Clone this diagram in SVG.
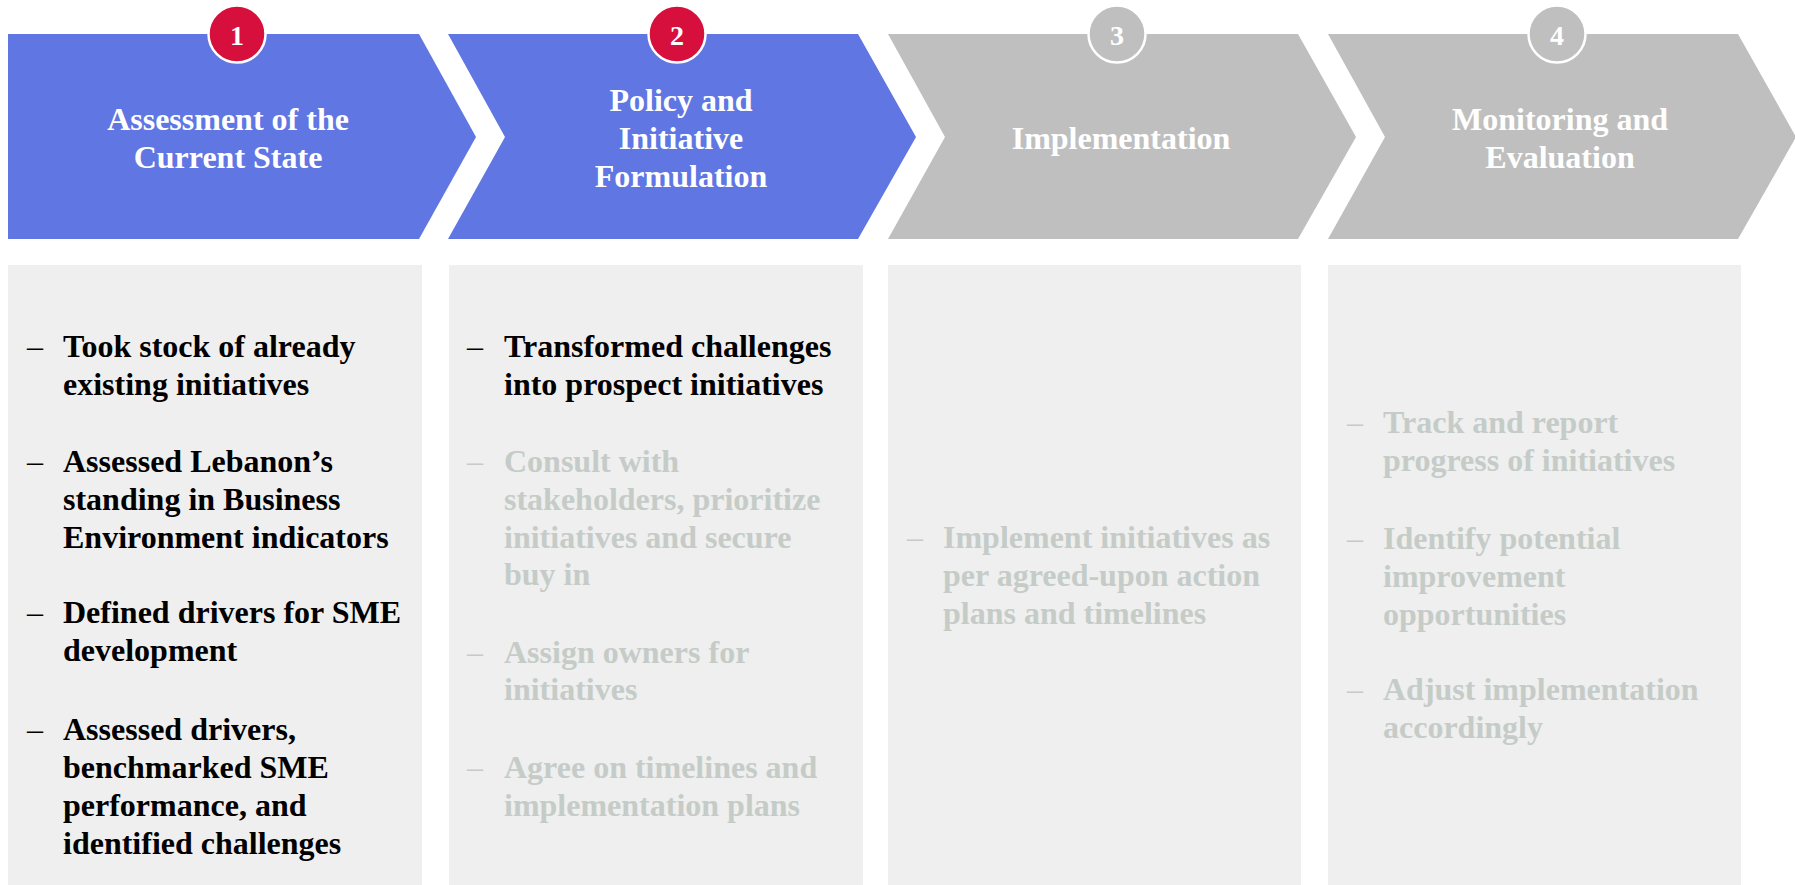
<svg xmlns="http://www.w3.org/2000/svg" width="1795" height="885" viewBox="0 0 1795 885">
  <style>
    .chev-on { fill: #5F76E3; }
    .chev-off { fill: #BFBFBF; }
    .badge-on { fill: #D70F3C; stroke: #FFFFFF; stroke-width: 2.5; }
    .badge-off { fill: #BFBFBF; stroke: #FFFFFF; stroke-width: 2.5; }
    .num { font-family: "Liberation Serif", "Times New Roman", serif; font-weight: bold; font-size: 28px; fill: #FFFFFF; text-anchor: middle; }
    .title { font-family: "Liberation Serif", "Times New Roman", serif; font-weight: bold; font-size: 32px; fill: #FFFFFF; text-anchor: middle; }
    .panel { fill: #EFEFEF; }
    .body { font-family: "Liberation Serif", "Times New Roman", serif; font-weight: bold; font-size: 32px; }
    .dash { font-weight: normal; }
    .done { fill: #000000; }
    .todo { fill: #C5CCC8; }
  </style>

  <!-- Step 1: Assessment of the Current State -->
  <g id="step1">
    <polygon class="chev-on" points="8,34 419,34 476,137 419,239 8,239"/>
    <circle class="badge-on" cx="237" cy="34" r="28.5"/>
    <text class="num" x="237" y="45">1</text>
    <text class="title" x="228" y="130">Assessment of the</text>
    <text class="title" x="228" y="168">Current State</text>
    <rect class="panel" x="8" y="265" width="414" height="620"/>
    <g class="body">
      <text class="done dash" x="27" y="357">–</text>
      <text class="done" x="63" y="357">Took stock of already</text>
      <text class="done" x="63" y="395">existing initiatives</text>
      <text class="done dash" x="27" y="472">–</text>
      <text class="done" x="63" y="472">Assessed Lebanon’s</text>
      <text class="done" x="63" y="510">standing in Business</text>
      <text class="done" x="63" y="548">Environment indicators</text>
      <text class="done dash" x="27" y="623">–</text>
      <text class="done" x="63" y="623">Defined drivers for SME</text>
      <text class="done" x="63" y="661">development</text>
      <text class="done dash" x="27" y="740">–</text>
      <text class="done" x="63" y="740">Assessed drivers,</text>
      <text class="done" x="63" y="778">benchmarked SME</text>
      <text class="done" x="63" y="816">performance, and</text>
      <text class="done" x="63" y="854">identified challenges</text>
    </g>
  </g>

  <!-- Step 2: Policy and Initiative Formulation -->
  <g id="step2">
    <polygon class="chev-on" points="448,34 858,34 916,137 858,239 448,239 505,137"/>
    <circle class="badge-on" cx="677" cy="34" r="28.5"/>
    <text class="num" x="677" y="45">2</text>
    <text class="title" x="681" y="111">Policy and</text>
    <text class="title" x="681" y="149">Initiative</text>
    <text class="title" x="681" y="187">Formulation</text>
    <rect class="panel" x="449" y="265" width="414" height="620"/>
    <g class="body">
      <text class="done dash" x="467" y="357">–</text>
      <text class="done" x="504" y="357">Transformed challenges</text>
      <text class="done" x="504" y="395">into prospect initiatives</text>
      <text class="todo dash" x="467" y="472">–</text>
      <text class="todo" x="504" y="472">Consult with</text>
      <text class="todo" x="504" y="510">stakeholders, prioritize</text>
      <text class="todo" x="504" y="548">initiatives and secure</text>
      <text class="todo" x="504" y="585">buy in</text>
      <text class="todo dash" x="467" y="663">–</text>
      <text class="todo" x="504" y="663">Assign owners for</text>
      <text class="todo" x="504" y="700">initiatives</text>
      <text class="todo dash" x="467" y="778">–</text>
      <text class="todo" x="504" y="778">Agree on timelines and</text>
      <text class="todo" x="504" y="816">implementation plans</text>
    </g>
  </g>

  <!-- Step 3: Implementation -->
  <g id="step3">
    <polygon class="chev-off" points="888,34 1298,34 1356,137 1298,239 888,239 945,137"/>
    <circle class="badge-off" cx="1117" cy="34" r="28.5"/>
    <text class="num" x="1117" y="45">3</text>
    <text class="title" x="1121" y="149">Implementation</text>
    <rect class="panel" x="888" y="265" width="413" height="620"/>
    <g class="body">
      <text class="todo dash" x="907" y="548">–</text>
      <text class="todo" x="943" y="548">Implement initiatives as</text>
      <text class="todo" x="943" y="586">per agreed-upon action</text>
      <text class="todo" x="943" y="624">plans and timelines</text>
    </g>
  </g>

  <!-- Step 4: Monitoring and Evaluation -->
  <g id="step4">
    <polygon class="chev-off" points="1328,34 1738,34 1796,137 1738,239 1328,239 1385,137"/>
    <circle class="badge-off" cx="1557" cy="34" r="28.5"/>
    <text class="num" x="1557" y="45">4</text>
    <text class="title" x="1560" y="130">Monitoring and</text>
    <text class="title" x="1560" y="168">Evaluation</text>
    <rect class="panel" x="1328" y="265" width="413" height="620"/>
    <g class="body">
      <text class="todo dash" x="1347" y="433">–</text>
      <text class="todo" x="1383" y="433">Track and report</text>
      <text class="todo" x="1383" y="471">progress of initiatives</text>
      <text class="todo dash" x="1347" y="549">–</text>
      <text class="todo" x="1383" y="549">Identify potential</text>
      <text class="todo" x="1383" y="587">improvement</text>
      <text class="todo" x="1383" y="625">opportunities</text>
      <text class="todo dash" x="1347" y="700">–</text>
      <text class="todo" x="1383" y="700">Adjust implementation</text>
      <text class="todo" x="1383" y="738">accordingly</text>
    </g>
  </g>

  <!-- Steps are linked by the chevron shapes themselves; no separate connectors -->
  <g id="connectors"/>
</svg>
